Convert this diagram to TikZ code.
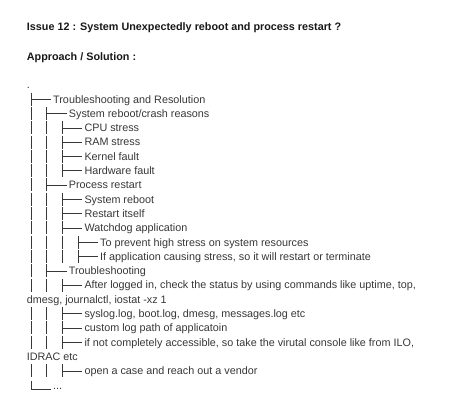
\documentclass[tikz,border=0pt]{standalone}
\usepackage{fontspec}
\setmainfont{Liberation Sans}
\definecolor{ink}{HTML}{383838}
\newcommand\vb[2]{\draw[tree] (#1,{#2-6.7}) -- (#1,{#2+6.3});}
\newcommand\hb[2]{\draw[tree] (#1,#2) -- ++(20,0);}
\newcommand\lb[2]{\draw[tree] (#1,{#2-8}) -- (#1,#2) -- ++(20,0);}
\begin{document}
\begin{tikzpicture}[x=1pt,y=-1pt,
  txt/.style={anchor=base west,inner sep=0pt,text=ink,font=\fontsize{10.8}{12}\selectfont},
  ttl/.style={txt,font=\fontsize{10.8}{12}\selectfont\bfseries,text=black!90},
  tree/.style={draw=ink,line width=0.75pt}]
\useasboundingbox[fill=white] (0,0) rectangle (474,404);
\node[ttl] (title) at (26.7,31) {Issue 12 : System Unexpectedly reboot and process restart ?};
\node[ttl] (appr) at (26.7,60) {Approach / Solution :};
\node[txt] (dot) at (26.7,88.7) {.};
% rows
\node[txt] (r1) at (53,103) {Troubleshooting and Resolution};
\node[txt] (r2) at (68.7,117.3) {System reboot/crash reasons};
\node[txt] (r3) at (84.3,131.6) {CPU stress};
\node[txt] (r4) at (84.3,145.9) {RAM stress};
\node[txt] (r5) at (84.3,160.2) {Kernel fault};
\node[txt] (r6) at (84.3,174.5) {Hardware fault};
\node[txt] (r7) at (68.7,188.8) {Process restart};
\node[txt] (r8) at (84.3,203.1) {System reboot};
\node[txt] (r9) at (84.3,217.4) {Restart itself};
\node[txt] (r10) at (84.3,231.7) {Watchdog application};
\node[txt] (r11) at (100,246.0) {To prevent high stress on system resources};
\node[txt] (r12) at (100,260.3) {If application causing stress, so it will restart or terminate};
\node[txt] (r13) at (68.7,274.6) {Troubleshooting};
\node[txt] (r14) at (84.3,288.9) {After logged in, check the status by using commands like uptime, top,};
\node[txt] (r15) at (26.7,303.2) {dmesg, journalctl, iostat -xz 1};
\node[txt] (r16) at (84.3,317.5) {syslog.log, boot.log, dmesg, messages.log etc};
\node[txt] (r17) at (84.3,331.8) {custom log path of applicatoin};
\node[txt] (r18) at (84.3,346.1) {if not completely accessible, so take the virutal console like from ILO,};
\node[txt] (r19) at (26.7,360.4) {IDRAC etc};
\node[txt] (r20) at (84.3,374.7) {open a case and reach out a vendor};
\node[txt] (r21) at (53,389.0) {...};
% tree lines
\vb{31}{99.3} \hb{31}{99.3}
\vb{31}{113.6} \vb{46.7}{113.6} \hb{46.7}{113.6}
\foreach \yy in {127.9,142.2,156.5,170.8}{\vb{31}{\yy} \vb{46.7}{\yy} \vb{62.3}{\yy} \hb{62.3}{\yy}}
\vb{31}{185.1} \vb{46.7}{185.1} \hb{46.7}{185.1}
\foreach \yy in {199.4,213.7,228.0}{\vb{31}{\yy} \vb{46.7}{\yy} \vb{62.3}{\yy} \hb{62.3}{\yy}}
\foreach \yy in {242.3,256.6}{\vb{31}{\yy} \vb{46.7}{\yy} \vb{62.3}{\yy} \vb{78}{\yy} \hb{78}{\yy}}
\vb{31}{270.9} \vb{46.7}{270.9} \hb{46.7}{270.9}
\foreach \yy in {285.2,313.8,328.1,342.4,371.0}{\vb{31}{\yy} \vb{46.7}{\yy} \vb{62.3}{\yy} \hb{62.3}{\yy}}
\lb{31}{389.0}
\end{tikzpicture}
\end{document}
